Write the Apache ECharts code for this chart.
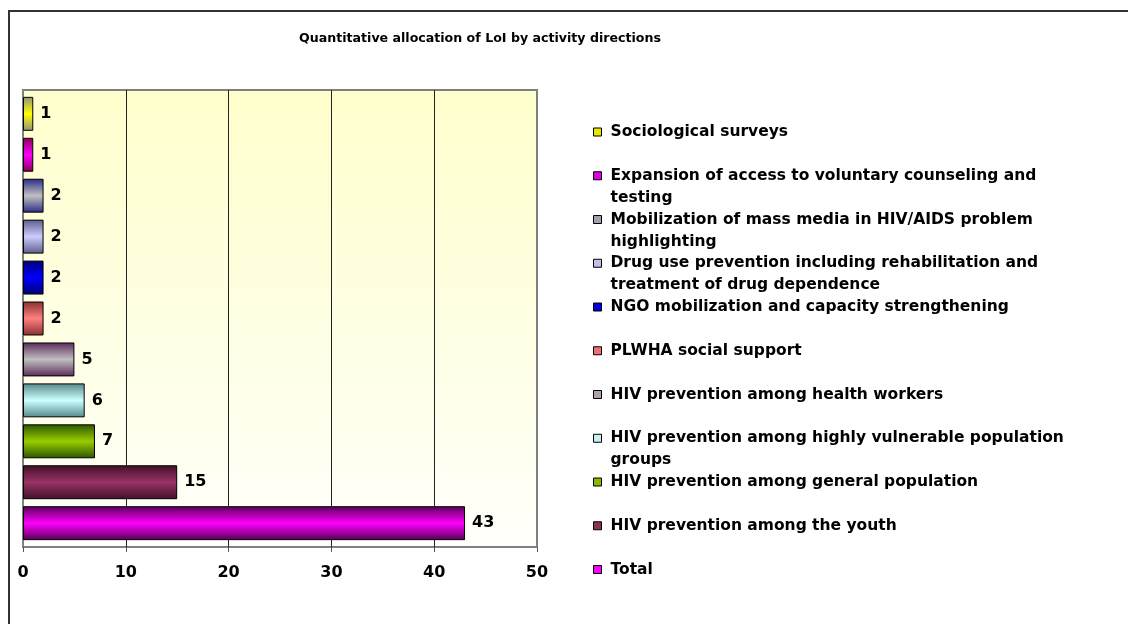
<!DOCTYPE html>
<html>
<head>
<meta charset="utf-8">
<script src="https://cdn.jsdelivr.net/npm/echarts@6/dist/echarts.min.js"></script>
<style>
html,body{margin:0;padding:0;background:#fff;}
#chart{width:1128px;height:624px;}
</style>
</head>
<body>
<div id="chart"></div>
<script>
// ---- data ----
const titleText = 'Quantitative allocation of LoI by activity directions';
const seriesNames = [
  'Sociological surveys',
  'Expansion of access to voluntary counseling and testing',
  'Mobilization of mass media in HIV/AIDS problem highlighting',
  'Drug use prevention including rehabilitation and treatment of drug dependence',
  'NGO mobilization and capacity strengthening',
  'PLWHA social support',
  'HIV prevention among health workers',
  'HIV prevention among highly vulnerable population groups',
  'HIV prevention among general population',
  'HIV prevention among the youth',
  'Total'
];
const legendLabels = [
  'Sociological surveys',
  'Expansion of access to voluntary counseling and\ntesting',
  'Mobilization of mass media in HIV/AIDS problem\nhighlighting',
  'Drug use prevention including rehabilitation and\ntreatment of drug dependence',
  'NGO mobilization and capacity strengthening',
  'PLWHA social support',
  'HIV prevention among health workers',
  'HIV prevention among highly vulnerable population\ngroups',
  'HIV prevention among general population',
  'HIV prevention among the youth',
  'Total'
];
const seriesValues = [1, 1, 2, 2, 2, 2, 5, 6, 7, 15, 43];
const xTicks = [0, 10, 20, 30, 40, 50];

// ---- styles ----
const edgeColors = ['#8f8f80', '#880055', '#2a2a88', '#5c5c8c', '#000070', '#883030', '#5a2a5a', '#558888', '#2a5500', '#401028', '#550055'];
const midColors  = ['#ffff00', '#ff00ff', '#c0c0c0', '#ccccff', '#0000ff', '#ff8080', '#c0c0c0', '#ccffff', '#99cc00', '#993366', '#ff00ff'];
const legendColors = ['#e8e800', '#e000e0', '#a0a0b0', '#c0c0e8', '#0000e0', '#f07070', '#b0a0b0', '#c8f0f0', '#88b800', '#883355', '#ff00ff'];

const FONT = 'DejaVu Sans';
const chart = echarts.init(document.getElementById('chart'), null, {renderer: 'canvas'});

const series = seriesNames.map((name, i) => ({
  name: name,
  type: 'bar',
  data: [seriesValues[i]],
  barGap: '20.6%',
  barCategoryGap: '3%',
  itemStyle: {
    color: new echarts.graphic.LinearGradient(0, 0, 0, 1, [
      {offset: 0, color: edgeColors[i]},
      {offset: 0.5, color: midColors[i]},
      {offset: 1, color: edgeColors[i]}
    ]),
    borderColor: '#000',
    borderWidth: 1
  },
  label: {
    show: true,
    position: 'right',
    distance: 7,
    color: '#000',
    fontFamily: FONT,
    fontWeight: 'bold',
    fontSize: 16
  }
}));

const LH = 22;
const legends = legendLabels.map((lab, i) => {
  const lines = lab.split('\n');
  // pad with leading empty lines so the first text line sits level with the icon
  const text = lines.length > 1 ? '\n'.repeat(lines.length - 1) + lab : lab;
  const total = lines.length > 1 ? (2 * lines.length - 1) : 1;
  const c = 132 + i * 43.75;
  return {
    data: [{name: seriesNames[i], itemStyle: {color: legendColors[i]}}],
    formatter: () => text,
    orient: 'vertical',
    left: 593,
    top: c - (total * LH) / 2,
    padding: 0,
    itemWidth: 8,
    itemHeight: 8,
    icon: 'rect',
    selectedMode: false,
    itemStyle: {borderColor: '#000', borderWidth: 1},
    textStyle: {
      fontFamily: FONT, fontWeight: 'bold', fontSize: 15.5, color: '#000',
      lineHeight: LH, padding: [0, 0, 0, 4]
    }
  };
});

chart.setOption({
  animation: false,
  backgroundColor: '#fff',
  title: {
    text: titleText,
    left: 480,
    textAlign: 'center',
    top: 32,
    padding: 0,
    textStyle: {fontFamily: FONT, fontWeight: 'bold', fontSize: 12.6, color: '#000'}
  },
  graphic: [{
    type: 'rect', silent: true, z: 100,
    shape: {x: 9, y: 11, width: 1200, height: 700},
    style: {fill: 'none', stroke: '#333', lineWidth: 2}
  }],
  legend: legends,
  grid: {
    left: 23, top: 90, right: 591, bottom: 77,
    show: true,
    borderColor: '#808080',
    borderWidth: 2,
    backgroundColor: new echarts.graphic.LinearGradient(0, 0, 0, 1, [
      {offset: 0, color: '#ffffcc'},
      {offset: 1, color: '#fffffa'}
    ])
  },
  xAxis: {
    type: 'value',
    min: xTicks[0],
    max: xTicks[xTicks.length - 1],
    interval: xTicks[1] - xTicks[0],
    axisLine: {show: true, lineStyle: {color: '#808080', width: 1}},
    axisTick: {show: true, length: 5, lineStyle: {color: '#555'}},
    axisLabel: {
      margin: 18, color: '#000', fontFamily: FONT, fontWeight: 'bold', fontSize: 16
    },
    splitLine: {show: true, showMinLine: false, showMaxLine: false, lineStyle: {color: '#222', width: 1}}
  },
  yAxis: {
    type: 'category',
    data: [''],
    axisLine: {show: false},
    axisTick: {show: false},
    axisLabel: {show: false}
  },
  series: series
});
</script>
</body>
</html>
